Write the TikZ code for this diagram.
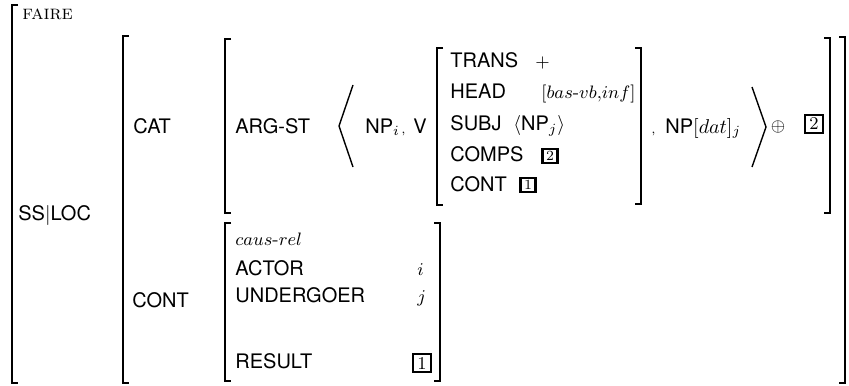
\documentclass[tikz,border=0pt]{standalone}
\usepackage{fontspec}
\setsansfont{TeX Gyre Heros}
\begin{document}
\begin{tikzpicture}[x=0.5pt,y=-0.5pt,
  lbl/.style={inner sep=0pt, anchor=base west, font=\sffamily\fontsize{10}{12}\selectfont},
  mth/.style={inner sep=0pt, anchor=base west, font=\fontsize{9.5}{11}\selectfont},
  brk/.style={line width=0.85pt},
  ang/.style={line width=0.7pt},
  tagsm/.style={draw, line width=1.1pt, inner sep=0pt, minimum width=7.5pt, minimum height=7pt, font=\fontsize{7}{8}\selectfont},
  tagbg/.style={draw, line width=1.2pt, inner sep=0pt, minimum size=9.2pt, font=\fontsize{9}{10}\selectfont},
  smallcomma/.style={inner sep=0pt, anchor=base west, font=\fontsize{6}{7}\selectfont}]
\useasboundingbox (0,0) rectangle (849,385);
% left brackets
\draw[brk] (18,5) -- (12,5) -- (12,383) -- (18,383);
\draw[brk] (129,36) -- (123,36) -- (123,383) -- (129,383);
\draw[brk] (231,39) -- (225,39) -- (225,213) -- (231,213);
\draw[brk] (443,48) -- (437,48) -- (437,205) -- (443,205);
\draw[brk] (231,223) -- (225,223) -- (225,381) -- (231,381);
% right brackets
\draw[brk] (839,37) -- (845,37) -- (845,383) -- (839,383);
\draw[brk] (824,38) -- (830,38) -- (830,213) -- (824,213);
\draw[brk] (635,48) -- (641,48) -- (641,204) -- (635,204);
\draw[brk] (434,223) -- (440,223) -- (440,381) -- (434,381);
% angle brackets
\draw[ang] (353,85) -- (339,126) -- (353,167);
\draw[ang] (752,87) -- (766,127) -- (752,167);
% texts
\node[inner sep=0pt, anchor=base west, font=\rmfamily\fontsize{10}{12}\selectfont] (faire) at (22,20) {\textsc{faire}};
\node[lbl] (ssloc) at (18,220) {SS$|$LOC};
\node[lbl] (cat) at (133,133) {CAT};
\node[lbl] (argst) at (235,133) {ARG-ST};
\node[lbl] (np1) at (365,133) {NP$_i$};
\node[smallcomma] (comma1) at (401,133) {,};
\node[lbl] (v) at (413,133) {V};
\node[lbl] (trans) at (450,68) {TRANS};
\node[mth] (plus) at (535,68) {$+$};
\node[lbl] (head) at (450,98) {HEAD};
\node[mth] (headval) at (541,98) {$[bas\mbox{-}vb{,}inf]$};
\node[lbl] (subj) at (450,130) {SUBJ};
\node[lbl] (subjval) at (513,130) {$\langle$NP$_j\rangle$};
\node[lbl] (comps) at (450,161) {COMPS};
\node[tagsm] (tagtwoa) at (550,156) {2};
\node[lbl] (conta) at (450,191) {CONT};
\node[tagsm] (tagonea) at (528,185) {1};
\node[smallcomma] (comma2) at (651,133) {,};
\node[lbl] (np2) at (665,133) {NP$[dat]_j$};
\node[mth, anchor=center] (oplus) at (778,127) {$\oplus$};
\node[tagbg] (tagtwob) at (814,124) {2};
\node[lbl] (contb) at (132,307) {CONT};
\node[mth] (causrel) at (235,245) {$caus\mbox{-}rel$};
\node[lbl] (actor) at (235,275) {ACTOR};
\node[mth] (ival) at (417,275) {$i$};
\node[lbl] (undergoer) at (235,302) {UNDERGOER};
\node[mth] (jval) at (417,302) {$j$};
\node[lbl] (result) at (235,368) {RESULT};
\node[tagbg] (tagoneb) at (422,363) {1};
\end{tikzpicture}
\end{document}
